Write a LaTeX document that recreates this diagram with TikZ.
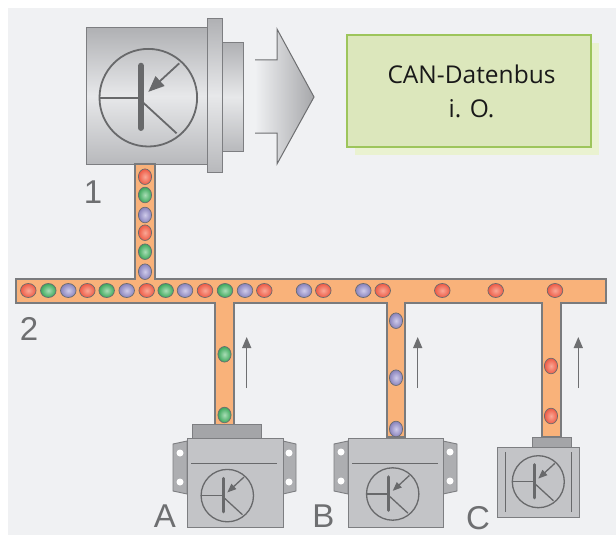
\documentclass[tikz,border=0pt]{standalone}
\usepackage{fontspec}
\setmainfont{Liberation Sans}
\newfontfamily\statusfont{Open Sans}
\usetikzlibrary{arrows.meta}

\definecolor{panel}{HTML}{F0F1F3}
\definecolor{busfill}{HTML}{F9B27A}
\definecolor{busline}{HTML}{7A7B7D}
\definecolor{symline}{HTML}{68696B}
\definecolor{labelgray}{HTML}{6E6F71}
\definecolor{partline}{HTML}{7D7E81}
\definecolor{bodygray}{HTML}{C3C4C7}
\definecolor{plategray}{HTML}{A4A5A8}
\definecolor{eargray}{HTML}{ADAEB1}
\definecolor{boxfill}{HTML}{DCE7BC}
\definecolor{boxline}{HTML}{9DC55B}
\definecolor{boxshadow}{HTML}{EAF2D0}
\definecolor{dotline}{HTML}{6A6B6E}
\definecolor{Rbase}{HTML}{EE5A45}
\definecolor{Rhi}{HTML}{F9A896}
\definecolor{Gbase}{HTML}{3DA85C}
\definecolor{Ghi}{HTML}{A9DDB6}
\definecolor{Pbase}{HTML}{8983BC}
\definecolor{Phi}{HTML}{CFCBEA}
\definecolor{shadedark}{HTML}{B0B1B4}
\definecolor{shadelow}{HTML}{B8B9BC}
\definecolor{shadelight}{HTML}{E7E8EA}
\definecolor{arrowdark}{HTML}{A6A7AA}

% transistor symbol: #1,#2 centre, #3 radius, #4 line width, #5 bar width,
% #6 arrow head length, #7 arrow head width
\newcommand{\transistorsymbol}[7]{%
  \begin{scope}[shift={(#1,#2)}]
  \begin{scope}[x=#3pt,y=-#3pt]
    \draw[symline, line width=#4pt] (0,0) circle [radius=#3pt];
    \draw[symline, line width=#4pt] (-1,0) -- (-0.15,0);
    \draw[symline, line width=#4pt] (-0.15,0.06) -- (0.58,0.73);
    \draw[symline, line width=#4pt, -{Triangle[length=#6pt,width=#7pt]}]
      (0.635,-0.705) -- (0,-0.12);
    \draw[symline, line width=#5pt, line cap=round] (-0.15,-0.655) -- (-0.15,0.62);
  \end{scope}
  \end{scope}}

\begin{document}
\begin{tikzpicture}[x=1pt,y=-1pt,
  housing/.style={draw=partline, line width=1pt, top color=shadedark, bottom color=shadelow, middle color=shadelight},
  bus/.style={fill=busfill, draw=busline, line width=1.2pt, line join=miter},
  busdot/.style={draw=dotline, line width=0.7pt, inner color=#1hi, outer color=#1base},
  hdot/.style={x radius=7.8pt, y radius=7pt},
  vdot/.style={x radius=6.6pt, y radius=7.8pt},
  partbody/.style={fill=bodygray, draw=partline, line width=0.9pt},
  partplate/.style={fill=plategray, draw=partline, line width=0.9pt},
  partear/.style={fill=eargray, draw=partline, line width=0.9pt},
  hole/.style={fill=white},
  flowarrow/.style={draw=labelgray, line width=1.3pt, -{Triangle[length=11pt,width=9pt]}},
  biglabel/.style={text=labelgray, font=\fontsize{33}{33}\selectfont, inner sep=0pt, anchor=base},
  statustext/.style={text=black!90, font=\statusfont\fontsize{24.5}{24.5}\selectfont, inner sep=0pt, anchor=base}
]
\useasboundingbox (0,0) rectangle (616,535);
\fill[white] (0,0) rectangle (616,535);
\fill[panel] (8,8) rectangle (616,535);

% status box
\fill[boxshadow] (355,43) rectangle (599,155);
\draw[fill=boxfill, draw=boxline, line width=1.4pt] (347,35) rectangle (591,147);
\node[statustext] (status1) at (471.5,84) {CAN-Datenbus};
\node[statustext] (status2) at (471.5,117.3) {i. O.};

% control unit 1
\draw[housing] (86,28) rectangle (207,164);
\draw[housing] (207,19) rectangle (222,172);
\draw[housing] (222,43) rectangle (243,151);
\transistorsymbol{148.3}{97.7}{48.8}{1.8}{6}{16}{13}

% output arrow
\path[left color=panel, right color=arrowdark]
  (255,60) -- (277,60) -- (277,29) -- (314,97) -- (277,164) -- (277,133) -- (255,133) -- cycle;
\draw[draw=labelgray, line width=1pt, line join=miter]
  (255,60) -- (277,60) -- (277,29) -- (314,97) -- (277,164) -- (277,133) -- (255,133);

% bus lines
\draw[bus] (16,279) -- (135,279) -- (135,164) -- (155,164) -- (155,279) -- (606,279)
  -- (606,303) -- (561,303) -- (561,437) -- (542,437) -- (542,303)
  -- (405,303) -- (405,437) -- (387,437) -- (387,303)
  -- (234,303) -- (234,425) -- (215,425) -- (215,303) -- (16,303) -- cycle;

% device A
\draw[partear] (187,441) -- (173,444) -- (173,491) -- (187,494) -- cycle;
\draw[partear] (283,441) -- (296,444) -- (296,491) -- (283,494) -- cycle;
\draw[partplate] (192,424) rectangle (261,438);
\draw[partbody] (187,438) rectangle (283,527);
\foreach \hx in {180,289} \foreach \hy in {453,482} \fill[hole] (\hx,\hy) circle [radius=3.5pt];
\draw[symline, line width=1pt] (191,463) -- (277,463);
\transistorsymbol{227.3}{495.6}{26.2}{1.3}{3.2}{9}{7}

% device B
\draw[partear] (348,441) -- (334,444) -- (334,491) -- (348,494) -- cycle;
\draw[partear] (443,441) -- (457,444) -- (457,491) -- (443,494) -- cycle;
\draw[partbody] (348,438) rectangle (443,527);
\foreach \hx in {341,450} \foreach \hy in {452,481} \fill[hole] (\hx,\hy) circle [radius=3.5pt];
\draw[symline, line width=1pt] (352,463) -- (438,463);
\transistorsymbol{392.7}{494}{26.2}{1.3}{3.2}{9}{7}

% device C
\draw[partplate] (532,437) rectangle (571,447);
\draw[partbody] (497,447) rectangle (579,517);
\draw[symline, line width=1pt] (505,452) -- (505,512);
\draw[symline, line width=1pt] (571,452) -- (571,512);
\transistorsymbol{538.3}{481.7}{26}{1.3}{3.2}{9}{7}

% messages on the bus
\foreach \x/\c in {28.3/R,48.3/G,68.3/P,87.3/R,106.7/G,126.7/P,146.7/R,165.7/G,185/P,205/R,225/G,245/P,264.3/R,304/P,323.3/R,363.3/P,382.7/R,442.3/R,495.7/R,555/R}
  \path[busdot=\c] (\x,290.5) ellipse [hdot];
\foreach \y/\c in {176.7/R,195/G,215/P,232.7/R,251.7/G,271.7/P}
  \path[busdot=\c] (145,\y) ellipse [vdot];
\foreach \y in {354.3,415} \path[busdot=G] (224.5,\y) ellipse [vdot];
\foreach \y in {320.7,377.7,429} \path[busdot=P] (396,\y) ellipse [vdot];
\foreach \y in {366,416} \path[busdot=R] (551,\y) ellipse [vdot];

% direction arrows
\coordinate (fa0) at (246.7,388); \coordinate (fa1) at (246.7,337);
\coordinate (fb0) at (417.7,388); \coordinate (fb1) at (417.7,337);
\coordinate (fc0) at (578.3,388); \coordinate (fc1) at (578.3,337);
\draw[flowarrow] (fa0) -- (fa1);
\draw[flowarrow] (fb0) -- (fb1);
\draw[flowarrow] (fc0) -- (fc1);

% labels
\node[biglabel] (l1) at (93,203.5) {1};
\node[biglabel] (l2) at (29,340.5) {2};
\node[biglabel] (lA) at (165,527.5) {A};
\node[biglabel] (lB) at (323.5,527) {B};
\node[biglabel] (lC) at (478,529) {C};
\end{tikzpicture}
\end{document}
